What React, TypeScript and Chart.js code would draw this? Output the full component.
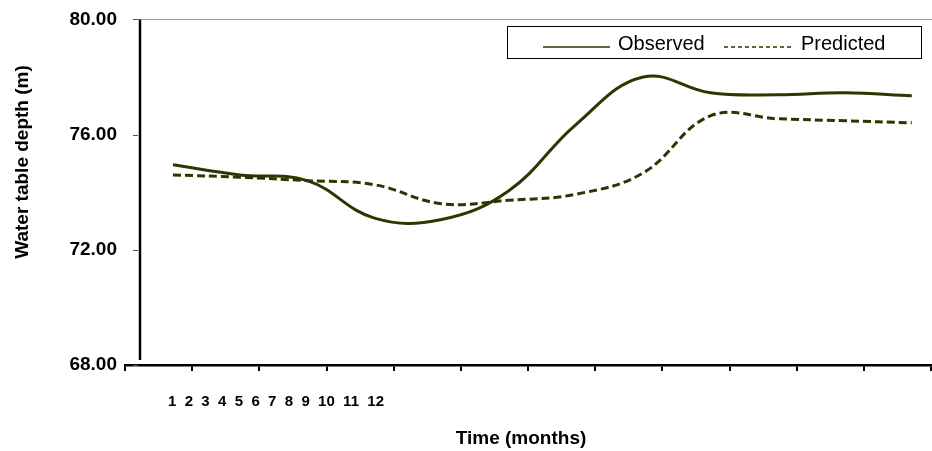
import { useEffect, useRef } from "react";
import { Chart, registerables } from "chart.js";

Chart.register(...registerables);

const MONTHS = [1, 2, 3, 4, 5, 6, 7, 8, 9, 10, 11, 12];
const OBSERVED = [74.95, 74.6, 74.4, 73.1, 73.05, 74.05, 76.35, 78.0, 77.45, 77.38, 77.45, 77.35];
const PREDICTED = [74.6, 74.52, 74.4, 74.26, 73.6, 73.72, 73.93, 74.67, 76.65, 76.55, 76.48, 76.41];
const Y_TICKS = [68, 72, 76, 80];
const X_AXIS_MIN = 0.286;
const X_AXIS_MAX = 12.286;
const X_TICK_COUNT = 13;
const MONTH_LABELS = MONTHS.map(String);
const SERIES_LABELS = ["Observed", "Predicted"];
const X_TITLE = "Time (months)";
const Y_TITLE = "Water table depth (m)";

const FONT = "'Liberation Sans', Arial, sans-serif";
const LINE_COLOR = "#333300";

const decor = {
  id: "decor",
  afterDraw(chart: any) {
    const { ctx, chartArea, scales } = chart;
    const y = scales.y;
    const left = chartArea.left;
    const yTop = y.getPixelForValue(Y_TICKS[Y_TICKS.length - 1]);
    ctx.save();

    // top frame line
    ctx.strokeStyle = "#9a9a9a";
    ctx.lineWidth = 1;
    ctx.beginPath();
    ctx.moveTo(left + 12, Math.round(yTop) + 0.5);
    ctx.lineTo(chart.width, Math.round(yTop) + 0.5);
    ctx.stroke();

    // y tick marks
    ctx.strokeStyle = "#555";
    ctx.lineWidth = 1;
    ctx.beginPath();
    Y_TICKS.forEach((v) => {
      const py = Math.round(y.getPixelForValue(v)) + 0.5;
      ctx.moveTo(left + 8, py);
      ctx.lineTo(left + 13, py);
    });
    ctx.stroke();

    // thick vertical line
    ctx.strokeStyle = "#000";
    ctx.lineWidth = 2.5;
    ctx.beginPath();
    ctx.moveTo(left + 15, yTop);
    ctx.lineTo(left + 15, chartArea.bottom - 5);
    ctx.stroke();

    // month labels
    ctx.fillStyle = "#000";
    ctx.font = `bold 15px ${FONT}`;
    ctx.textAlign = "left";
    ctx.textBaseline = "alphabetic";
    ctx.fillText(MONTH_LABELS.join("  "), 168, 406);

    // x title
    ctx.font = `bold 19px ${FONT}`;
    ctx.textAlign = "center";
    ctx.fillText(X_TITLE, 521, 444);

    // y title
    ctx.save();
    ctx.translate(28, 162);
    ctx.rotate(-Math.PI / 2);
    ctx.textAlign = "center";
    ctx.fillText(Y_TITLE, 0, 0);
    ctx.restore();

    // legend
    ctx.fillStyle = "#fff";
    ctx.fillRect(507, 26, 414, 33);
    ctx.strokeStyle = "#000";
    ctx.lineWidth = 1;
    ctx.strokeRect(507.5, 26.5, 414, 32);

    ctx.strokeStyle = LINE_COLOR;
    ctx.lineWidth = 1.5;
    ctx.beginPath();
    ctx.moveTo(543, 47);
    ctx.lineTo(610, 47);
    ctx.stroke();
    ctx.setLineDash([4, 3]);
    ctx.beginPath();
    ctx.moveTo(724, 47);
    ctx.lineTo(792, 47);
    ctx.stroke();
    ctx.setLineDash([]);

    ctx.fillStyle = "#000";
    ctx.font = `20px ${FONT}`;
    ctx.textAlign = "left";
    ctx.fillText(SERIES_LABELS[0], 618, 50);
    ctx.fillText(SERIES_LABELS[1], 801, 50);

    ctx.restore();
  },
};

export default function App() {
  const ref = useRef<HTMLCanvasElement>(null);

  useEffect(() => {
    document.body.style.margin = "0";
    if (!ref.current) return;
    const chart = new Chart(ref.current, {
      type: "line",
      data: {
        datasets: [
          {
            label: SERIES_LABELS[0],
            data: MONTHS.map((m, i) => ({ x: m, y: OBSERVED[i] })),
            borderColor: LINE_COLOR,
            borderWidth: 3,
            pointRadius: 0,
            tension: 0.4,
            fill: false,
          },
          {
            label: SERIES_LABELS[1],
            data: MONTHS.map((m, i) => ({ x: m, y: PREDICTED[i] })),
            borderColor: LINE_COLOR,
            borderWidth: 3,
            borderDash: [8, 4],
            pointRadius: 0,
            tension: 0.4,
            fill: false,
          },
        ],
      },
      options: {
        animation: false,
        responsive: false,
        layout: { padding: { top: 17, right: 1, left: 0, bottom: 0 } },
        plugins: {
          legend: { display: false },
          tooltip: { enabled: false },
        },
        scales: {
          x: {
            type: "linear",
            min: X_AXIS_MIN,
            max: X_AXIS_MAX,
            afterBuildTicks: (s: any) => {
              s.ticks = Array.from({ length: X_TICK_COUNT }, (_, k) => ({ value: X_AXIS_MIN + k }));
            },
            afterFit: (s: any) => {
              s.height = 86;
            },
            ticks: { display: false },
            grid: {
              drawOnChartArea: false,
              drawTicks: true,
              tickLength: 6,
              color: "#000",
              lineWidth: 2,
            },
            border: { display: true, color: "#000", width: 2.5 },
          },
          y: {
            min: 68,
            max: 80,
            afterBuildTicks: (s: any) => {
              s.ticks = Y_TICKS.map((v) => ({ value: v }));
            },
            afterFit: (s: any) => {
              s.width = 125;
            },
            ticks: {
              padding: 8,
              color: "#000",
              font: { family: FONT, size: 19, weight: "bold" },
              callback: (v: any) => Number(v).toFixed(2),
            },
            grid: { display: false, drawTicks: false },
            border: { display: false },
          },
        },
      },
      plugins: [decor],
    });
    return () => chart.destroy();
  }, []);

  return (
    <div style={{ width: 932, height: 451 }}>
      <canvas ref={ref} width={932} height={451} />
    </div>
  );
}
